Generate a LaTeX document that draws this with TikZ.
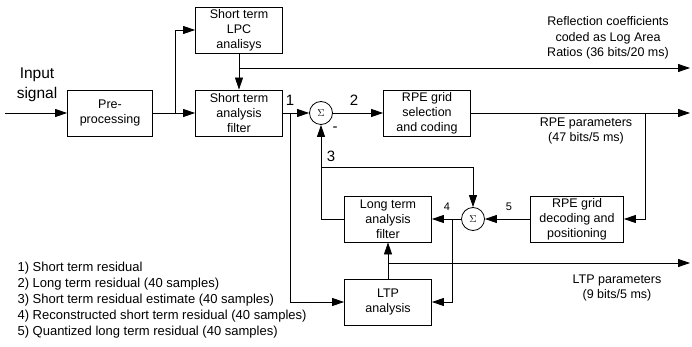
\documentclass[tikz,border=0pt]{standalone}
\usepackage{fontspec}
\setmainfont{Liberation Sans}
\usetikzlibrary{arrows.meta}

\tikzset{
  blk/.style={draw, line width=0.8pt, minimum width=87pt, minimum height=46pt,
    align=center, inner sep=1pt, font=\fontsize{12.5}{15}\selectfont},
  sum/.style={draw, circle, line width=0.8pt, minimum size=23pt, inner sep=0pt},
  sig/.style={line width=0.8pt, -{Triangle[length=12pt,width=8pt]}},
  wire/.style={line width=0.8pt},
  lbl/.style={align=center, font=\fontsize{12.5}{15.5}\selectfont},
  bignum/.style={font=\fontsize{15}{15}\selectfont},
  smallnum/.style={font=\fontsize{11}{11}\selectfont},
}

\begin{document}
\begin{tikzpicture}[x=1pt, y=-1pt]
\useasboundingbox (0,0) rectangle (692,347);

% blocks
\node[blk, minimum width=85pt] (pre) at (110,113) {Pre-\\processing};
\node[blk] (lpc) at (239,30) {Short term\\LPC\\analisys};
\node[blk] (staf) at (239,113) {Short term\\analysis\\filter};
\node[blk] (rpes) at (427,113) {RPE grid\\selection\\and coding};
\node[blk, minimum width=93pt] (rped) at (577,219) {RPE grid\\decoding and\\positioning};
\node[blk] (ltaf) at (388,219) {Long term\\analysis\\filter};
\node[blk] (ltp) at (388,302) {LTP\\analysis};
\node[sum] (s1) at (321,113) {$\Sigma$};
\node[sum] (s2) at (473,219) {$\Sigma$};

% input
\coordinate (in) at (5,113);
\node[align=center, font=\fontsize{15.5}{20}\selectfont] (insig) at (37,85) {Input\\signal};
\draw[sig] (in) -- (pre);

% short term part
\coordinate (sp) at (175,113);
\draw[wire] (pre) -- (sp);
\draw[sig] (sp) -- (staf);
\draw[sig] (sp) |- (lpc);
\draw[sig] (lpc) -- (staf);
\coordinate (rcj) at (239,68);
\coordinate (rco) at (690,68);
\draw[sig] (rcj) -- (rco);
\node[lbl] (rclbl) at (608,38) {Reflection coefficients\\coded as Log Area\\Ratios (36 bits/20 ms)};

% residual path
\draw[sig] (staf) -- (s1);
\node[bignum] (n1) at (290,100) {1};
\coordinate (b1) at (290,113);
\draw[sig] (b1) |- (ltp);
\draw[sig] (s1) -- (rpes);
\node[bignum] (n2) at (354,100) {2};
\node[bignum] (minus) at (335,129) {-};

% RPE
\coordinate (rpo) at (690,113);
\draw[sig] (rpes) -- (rpo);
\coordinate (b2) at (645,113);
\draw[sig] (b2) |- (rped);
\node[lbl] (rplbl) at (586,131) {RPE parameters\\(47 bits/5 ms)};
\draw[sig] (rped) -- (s2);
\node[smallnum] (n5) at (509,207) {5};

% long term loop
\draw[sig] (s2) -- (ltaf);
\node[smallnum] (n4) at (447,207) {4};
\coordinate (b4) at (452,219);
\draw[sig] (b4) |- (ltp);
\draw[sig] (ltaf.west) -| (s1);
\coordinate (b3) at (321,167);
\draw[sig] (b3) -| (s2);
\node[bignum] (n3) at (331,156) {3};

% LTP
\draw[sig] (ltp) -- (ltaf);
\coordinate (b5) at (388,263);
\coordinate (lto) at (690,263);
\draw[sig] (b5) -- (lto);
\node[lbl] (ltplbl) at (617,288) {LTP parameters\\(9 bits/5 ms)};

% legend
\node[align=left, anchor=west, font=\fontsize{13}{16}\selectfont] (key) at (14,300)
  {1) Short term residual\\
   2) Long term residual (40 samples)\\
   3) Short term residual estimate (40 samples)\\
   4) Reconstructed short term residual (40 samples)\\
   5) Quantized long term residual (40 samples)};
\end{tikzpicture}
\end{document}
